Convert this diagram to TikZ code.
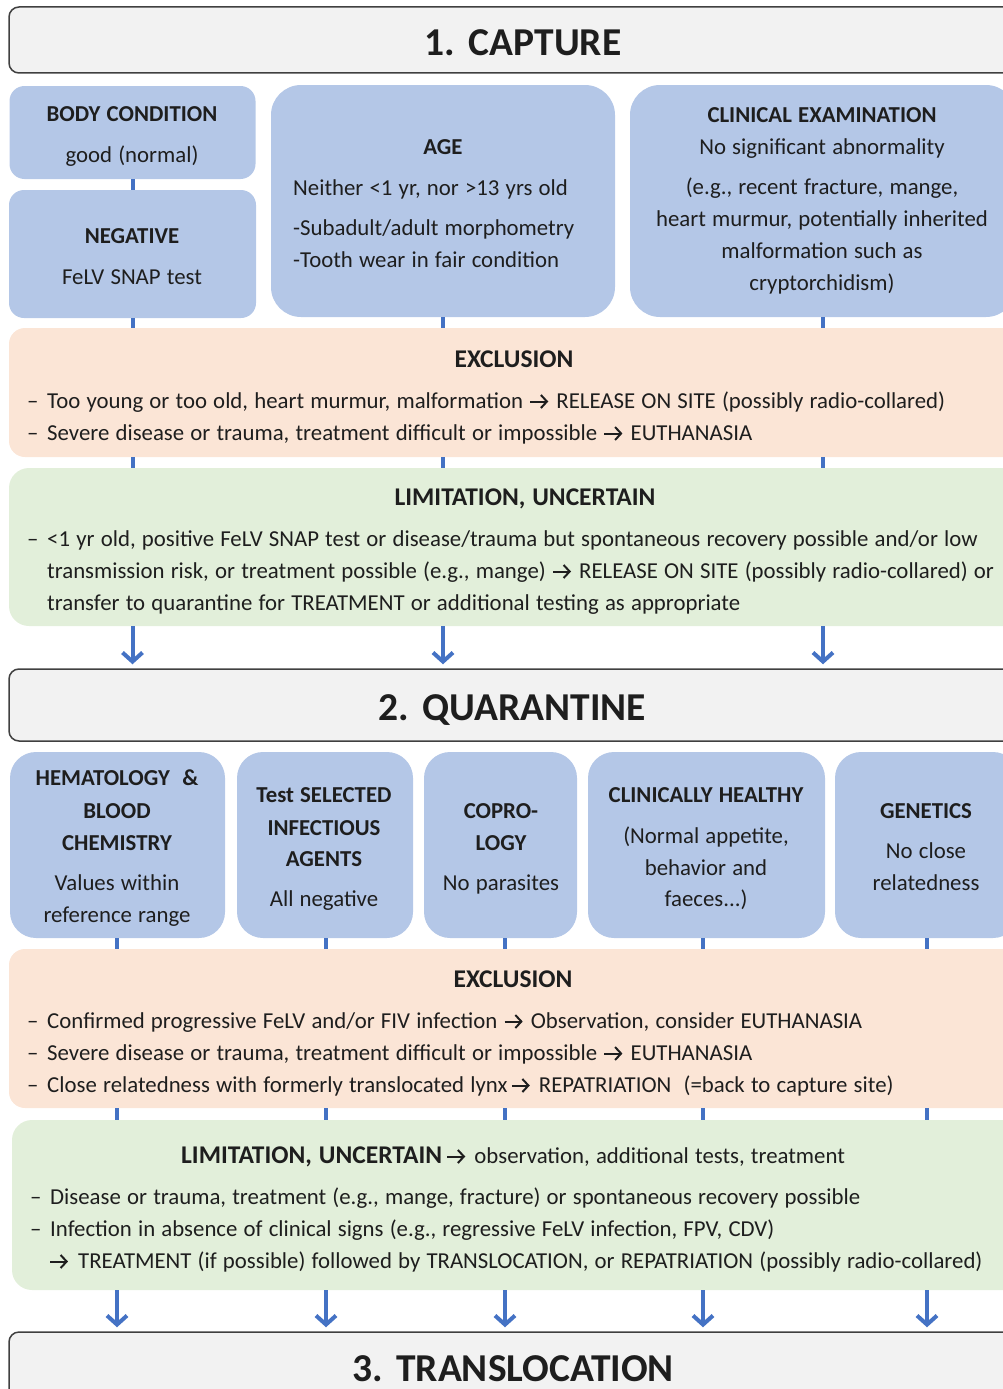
\documentclass[tikz,border=0pt]{standalone}
\usepackage{fontspec}
\setmainfont{Carlito}[WordSpace=1.2]
\usetikzlibrary{arrows.meta}
\definecolor{bboxc}{HTML}{B4C7E7}
\definecolor{oboxc}{HTML}{FBE5D6}
\definecolor{gboxc}{HTML}{E2EFDA}
\definecolor{hboxc}{HTML}{F2F2F2}
\definecolor{hlinec}{HTML}{404040}
\definecolor{cbluec}{HTML}{4472C4}
\definecolor{txtc}{HTML}{1E1E1E}
\newcommand\dsh{–\kern2.5pt\ }
\begin{document}
\begin{tikzpicture}[x=1pt,y=-1pt,
  every node/.style={text=txtc,font=\fontsize{22.8}{32}\selectfont,inner sep=0pt},
  hdrbox/.style={draw=hlinec,line width=1.5pt,fill=hboxc,rounded corners=10pt},
  bluebox/.style={fill=bboxc},
  exbox/.style={fill=oboxc,rounded corners=16pt},
  limbox/.style={fill=gboxc,rounded corners=20pt},
  htitle/.style={font=\fontsize{39.5}{42}\selectfont\bfseries,anchor=base},
  bt/.style={font=\fontsize{22.8}{32}\selectfont\bfseries,anchor=base},
  st/.style={font=\fontsize{25.5}{32}\selectfont\bfseries,anchor=base},
  ct/.style={anchor=base},
  lt/.style={anchor=base west},
  conn/.style={draw=cbluec,line width=4pt},
  arr/.style={draw=cbluec,line width=4pt,-{Straight Barb[length=9pt,width=20pt]},shorten >=4pt},
  tarr/.style={draw=txtc,line width=2pt,-{Straight Barb[length=6pt,width=13pt]}}
]
\useasboundingbox (0,0) rectangle (1003,1389);
% ---------- headers
\node[hdrbox,minimum width=1028pt,minimum height=66pt] (hdr1) at (523,40) {};
\node[htitle] (h1t) at (523,56) {1. CAPTURE};
\node[hdrbox,minimum width=1028pt,minimum height=72pt] (hdr2) at (523,705) {};
\node[htitle] (h2t) at (512,720) {2. QUARANTINE};
\node[hdrbox,minimum width=1028pt,minimum height=90pt] (hdr3) at (523,1377) {};
\node[htitle] (h3t) at (513,1381) {3. TRANSLOCATION};
% ---------- row 1 boxes
\node[bluebox,rounded corners=15pt,minimum width=246pt,minimum height=93pt] (bc) at (132.5,132.5) {};
\node[bluebox,rounded corners=15pt,minimum width=247pt,minimum height=128pt] (neg) at (132.5,254) {};
\node[bluebox,rounded corners=30pt,minimum width=344pt,minimum height=232pt] (age) at (443,201) {};
\node[bluebox,rounded corners=30pt,minimum width=386pt,minimum height=232pt] (clin) at (823,201) {};
\node[bt] (bc1) at (132,121.5) {BODY CONDITION};
\node[ct] (bc2) at (132,162.5) {good (normal)};
\node[bt] (ng1) at (132,243.5) {NEGATIVE};
\node[ct] (ng2) at (132,284.5) {FeLV SNAP test};
\node[bt] (ag1) at (443,154.5) {AGE};
\node[lt] (ag2) at (293,195.5) {Neither <1 yr, nor >13 yrs old};
\node[lt] (ag3) at (293,235.5) {-Subadult/adult morphometry};
\node[lt] (ag4) at (293,267.5) {-Tooth wear in fair condition};
\node[bt] (cl1) at (822,122.5) {CLINICAL EXAMINATION};
\node[ct] (cl2) at (822,154.5) {No significant abnormality};
\node[ct] (cl3) at (822,194.5) {(e.g., recent fracture, mange,};
\node[ct] (cl4) at (822,226.5) {heart murmur, potentially inherited};
\node[ct] (cl5) at (822,258.5) {malformation such as};
\node[ct] (cl6) at (822,290.5) {cryptorchidism)};
% ---------- exclusion 1
\node[exbox,minimum width=1031pt,minimum height=129pt] (ex1) at (524.5,392.5) {};
\node[st] (ex1t) at (514,367.5) {EXCLUSION};
\node[lt] (ex1a) at (27,408.5) {\dsh Too young or too old, heart murmur, malformation};
\draw[tarr] ([xshift=7pt,yshift=7pt]ex1a.base east) -- ([xshift=25pt,yshift=7pt]ex1a.base east);
\node[lt] (ex1a2) at ([xshift=33pt]ex1a.base east) {RELEASE ON SITE (possibly radio-collared)};
\node[lt] (ex1b) at (27,440.5) {\dsh Severe disease or trauma, treatment difficult or impossible};
\draw[tarr] ([xshift=7pt,yshift=7pt]ex1b.base east) -- ([xshift=25pt,yshift=7pt]ex1b.base east);
\node[lt] (ex1b2) at ([xshift=33pt]ex1b.base east) {EUTHANASIA};
% ---------- limitation 1
\node[limbox,minimum width=1031pt,minimum height=158pt] (lim1) at (524.5,547) {};
\node[st] (lim1t) at (525,505.5) {LIMITATION, UNCERTAIN};
\node[lt] (lim1a) at (27,546.5) {\dsh <1 yr old, positive FeLV SNAP test or disease/trauma but spontaneous recovery possible and/or low};
\node[lt] (lim1b) at (47,578.5) {transmission risk, or treatment possible (e.g., mange)};
\draw[tarr] ([xshift=7pt,yshift=7pt]lim1b.base east) -- ([xshift=25pt,yshift=7pt]lim1b.base east);
\node[lt] (lim1b2) at ([xshift=33pt]lim1b.base east) {RELEASE ON SITE (possibly radio-collared) or};
\node[lt] (lim1c) at (47,610.5) {transfer to quarantine for TREATMENT or additional testing as appropriate};
% ---------- connectors capture
\draw[conn] (bc.south) -- (bc.south |- neg.north);
\draw[conn] (neg.south) -- (neg.south |- ex1.north);
\draw[conn] (age.south) -- (age.south |- ex1.north);
\draw[conn] (clin.south) -- (clin.south |- ex1.north);
\draw[conn] (neg.south |- ex1.south) -- (neg.south |- lim1.north);
\draw[conn] (age.south |- ex1.south) -- (age.south |- lim1.north);
\draw[conn] (clin.south |- ex1.south) -- (clin.south |- lim1.north);
\draw[arr] (neg.south |- lim1.south) -- (neg.south |- hdr2.north);
\draw[arr] (age.south |- lim1.south) -- (age.south |- hdr2.north);
\draw[arr] (clin.south |- lim1.south) -- (clin.south |- hdr2.north);
% ---------- row 2 boxes
\node[bluebox,rounded corners=26pt,minimum width=215pt,minimum height=186pt] (hem) at (117.5,845) {};
\node[bluebox,rounded corners=26pt,minimum width=176pt,minimum height=186pt] (tsi) at (325,845) {};
\node[bluebox,rounded corners=26pt,minimum width=153pt,minimum height=186pt] (cop) at (500.5,845) {};
\node[bluebox,rounded corners=26pt,minimum width=237pt,minimum height=186pt] (clh) at (706.5,845) {};
\node[bluebox,rounded corners=26pt,minimum width=184pt,minimum height=186pt] (gen) at (927,845) {};
\node[bt] (hm1) at (117,785.5) {HEMATOLOGY \ \&};
\node[bt] (hm2) at (117,818.5) {BLOOD};
\node[bt] (hm3) at (117,850.5) {CHEMISTRY};
\node[ct] (hm4) at (117,890.5) {Values within};
\node[ct] (hm5) at (117,922.5) {reference range};
\node[bt] (ts1) at (324,802.5) {Test SELECTED};
\node[bt] (ts2) at (324,835.5) {INFECTIOUS};
\node[bt] (ts3) at (324,866.5) {AGENTS};
\node[ct] (ts4) at (324,906.5) {All negative};
\node[bt] (cp1) at (501,818.5) {COPRO-};
\node[bt] (cp2) at (501,850.5) {LOGY};
\node[ct] (cp3) at (501,890.5) {No parasites};
\node[bt] (ch1) at (706,802.5) {CLINICALLY HEALTHY};
\node[ct] (ch2) at (706,843.5) {(Normal appetite,};
\node[ct] (ch3) at (706,875.5) {behavior and};
\node[ct] (ch4) at (706,906.5) {faeces...)};
\node[bt] (gn1) at (926,818.5) {GENETICS};
\node[ct] (gn2) at (926,858.5) {No close};
\node[ct] (gn3) at (926,890.5) {relatedness};
% ---------- exclusion 2
\node[exbox,minimum width=1031pt,minimum height=159pt] (ex2) at (524.5,1028.5) {};
\node[st] (ex2t) at (513,987.5) {EXCLUSION};
\node[lt] (ex2a) at (27,1028.5) {\dsh Confirmed progressive FeLV and/or FIV infection};
\draw[tarr] ([xshift=7pt,yshift=7pt]ex2a.base east) -- ([xshift=25pt,yshift=7pt]ex2a.base east);
\node[lt] (ex2a2) at ([xshift=33pt]ex2a.base east) {Observation, consider EUTHANASIA};
\node[lt] (ex2b) at (27,1060.5) {\dsh Severe disease or trauma, treatment difficult or impossible};
\draw[tarr] ([xshift=7pt,yshift=7pt]ex2b.base east) -- ([xshift=25pt,yshift=7pt]ex2b.base east);
\node[lt] (ex2b2) at ([xshift=33pt]ex2b.base east) {EUTHANASIA};
\node[lt] (ex2c) at (27,1092.5) {\dsh Close relatedness with formerly translocated lynx};
\draw[tarr] ([xshift=4pt,yshift=7pt]ex2c.base east) -- ([xshift=22pt,yshift=7pt]ex2c.base east);
\node[lt] (ex2c2) at ([xshift=31pt]ex2c.base east) {REPATRIATION \ (=back to capture site)};
% ---------- limitation 2
\node[limbox,minimum width=1028pt,minimum height=170pt] (lim2) at (526,1205) {};
\node[st,anchor=base west] (lim2t) at (181,1163.5) {LIMITATION, UNCERTAIN};
\draw[tarr] ([xshift=5pt,yshift=7pt]lim2t.base east) -- ([xshift=23pt,yshift=7pt]lim2t.base east);
\node[lt] (lim2t2) at ([xshift=32pt]lim2t.base east) {observation, additional tests, treatment};
\node[lt] (lim2a) at (30,1204.5) {\dsh Disease or trauma, treatment (e.g., mange, fracture) or spontaneous recovery possible};
\node[lt] (lim2b) at (30,1236.5) {\dsh Infection in absence of clinical signs (e.g., regressive FeLV infection, FPV, CDV)};
\coordinate (la) at (50,1261.5);
\draw[tarr] (la) -- ([xshift=18pt]la);
\node[lt] (lim2c) at (78,1268.5) {TREATMENT (if possible) followed by TRANSLOCATION, or REPATRIATION (possibly radio-collared)};
% ---------- connector columns quarantine
\coordinate (k1) at (117,0);
\coordinate (k2) at (326,0);
\coordinate (k3) at (505,0);
\coordinate (k4) at (703,0);
\coordinate (k5) at (927,0);
\foreach \k/\b in {k1/hem,k2/tsi,k3/cop,k4/clh,k5/gen}{
  \draw[conn] (\k |- \b.south) -- (\k |- ex2.north);
  \draw[conn] (\k |- ex2.south) -- (\k |- lim2.north);
  \draw[arr] (\k |- lim2.south) -- (\k |- hdr3.north);
}
\end{tikzpicture}
\end{document}
